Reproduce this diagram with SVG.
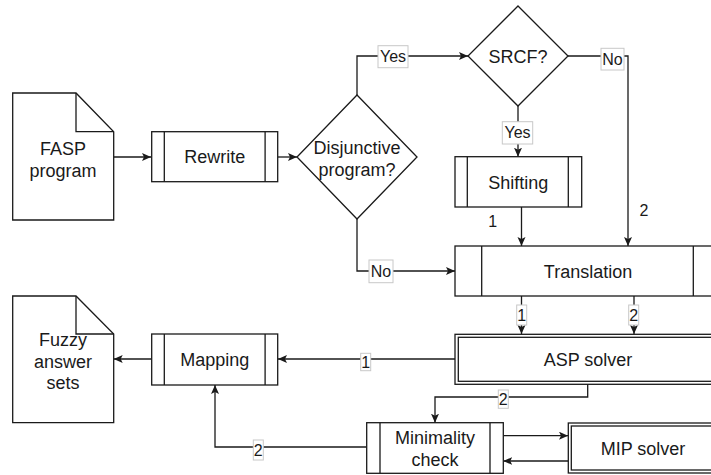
<svg xmlns="http://www.w3.org/2000/svg" width="711" height="475" viewBox="0 0 711 475">
<style>
.s{fill:#fff;stroke:#1a1a1a;stroke-width:1.3}
.l{fill:none;stroke:#1a1a1a;stroke-width:1.3}
.t{font-family:"Liberation Sans",Arial,sans-serif;font-size:18px;fill:#1a1a1a;text-anchor:middle}
.lt{font-family:"Liberation Sans",Arial,sans-serif;font-size:16px;fill:#1a1a1a;text-anchor:middle}
.lb{fill:#fff;stroke:#c8c8c8;stroke-width:1}
</style>
<defs>
<marker id="a" markerUnits="userSpaceOnUse" markerWidth="10" markerHeight="10" refX="9" refY="4" orient="auto">
<path d="M0,0 L9,4 L0,8 L2,4 Z" fill="#1a1a1a"/>
</marker>
</defs>
<rect width="711" height="475" fill="#fff"/>
<g id="connectors">
<path class="l" d="M113.7,157 H151" marker-end="url(#a)"/>
<path class="l" d="M277.7,157 H297" marker-end="url(#a)"/>
<path class="l" d="M357,95 V56 H468" marker-end="url(#a)"/>
<path class="l" d="M518,106 V156.7" marker-end="url(#a)"/>
<path class="l" d="M568,56 H628 V246" marker-end="url(#a)"/>
<path class="l" d="M521.5,207 V246" marker-end="url(#a)"/>
<path class="l" d="M357,219 V271 H455" marker-end="url(#a)"/>
<path class="l" d="M521.5,296 V334" marker-end="url(#a)"/>
<path class="l" d="M634,296 V334" marker-end="url(#a)"/>
<path class="l" d="M455,359 H278" marker-end="url(#a)"/>
<path class="l" d="M151.7,359 H113.7" marker-end="url(#a)"/>
<path class="l" d="M587.7,384 V397 H435 V422.7" marker-end="url(#a)"/>
<path class="l" d="M503.3,435.7 H568" marker-end="url(#a)"/>
<path class="l" d="M568,461 H503.3" marker-end="url(#a)"/>
<path class="l" d="M366.7,447 H215 V385" marker-end="url(#a)"/>
<rect class="lb" x="378" y="45.7" width="30" height="22"/>
<text class="lt" x="393" y="62">Yes</text>
<rect class="lb" x="502.3" y="121.7" width="30.4" height="22.3"/>
<text class="lt" x="517.5" y="138">Yes</text>
<rect class="lb" x="601" y="48.3" width="23" height="21.7"/>
<text class="lt" x="612.5" y="65">No</text>
<rect class="lb" x="369" y="260" width="24" height="22.7"/>
<text class="lt" x="381" y="277">No</text>
<text class="lt" x="492.7" y="227">1</text>
<text class="lt" x="644" y="215.5">2</text>
<rect class="lb" x="516.7" y="305" width="10" height="20"/>
<text class="lt" x="521.7" y="321">1</text>
<rect class="lb" x="628.7" y="305" width="10" height="20"/>
<text class="lt" x="633.7" y="321">2</text>
<rect class="lb" x="360.7" y="353.3" width="10" height="17.4"/>
<text class="lt" x="365.7" y="367.5">1</text>
<rect class="lb" x="498.3" y="390" width="10" height="18.3"/>
<text class="lt" x="503.3" y="404.5">2</text>
<rect class="lb" x="253.3" y="440" width="10" height="20"/>
<text class="lt" x="258.3" y="455.5">2</text>
</g>
<g id="fasp">
<path class="s" d="M12.7,93 H76 L113.7,131.7 V220 H12.7 Z"/>
<path class="l" d="M76,93 V131.7 H113.7"/>
<text class="t" x="63" y="154.5">FASP</text>
<text class="t" x="63" y="176.5">program</text>
</g>
<g id="rewrite">
<rect class="s" x="151.7" y="131.7" width="126" height="50"/>
<path class="l" d="M164.3,131.7 V181.7 M265.1,131.7 V181.7"/>
<text class="t" x="214.7" y="163">Rewrite</text>
</g>
<g id="disjunctive">
<path class="s" d="M357,95 L417,157 L357,219 L297,157 Z"/>
<text class="t" x="357" y="154">Disjunctive</text>
<text class="t" x="357" y="176">program?</text>
</g>
<g id="srcf">
<path class="s" d="M518,6 L568,56 L518,106 L468,56 Z"/>
<text class="t" x="518" y="63">SRCF?</text>
</g>
<g id="shifting">
<rect class="s" x="455" y="156.7" width="126.7" height="50.3"/>
<path class="l" d="M467.3,156.7 V207 M568.3,156.7 V207"/>
<text class="t" x="518.3" y="189">Shifting</text>
</g>
<g id="translation">
<rect class="s" x="455" y="246" width="265" height="50"/>
<path class="l" d="M481.7,246 V296 M693.3,246 V296"/>
<text class="t" x="588" y="278">Translation</text>
</g>
<g id="asp">
<rect class="s" x="455" y="334.3" width="265" height="50"/>
<rect class="l" x="458.3" y="337.3" width="258" height="44"/>
<text class="t" x="588" y="366">ASP solver</text>
</g>
<g id="mapping">
<rect class="s" x="151.7" y="334" width="126" height="51"/>
<path class="l" d="M164.3,334 V385 M265.1,334 V385"/>
<text class="t" x="214.7" y="366">Mapping</text>
</g>
<g id="fuzzy">
<path class="s" d="M12.7,296 H76 L113.7,334 V422.7 H12.7 Z"/>
<text class="t" x="63" y="346">Fuzzy</text>
<text class="t" x="63" y="367.5">answer</text>
<text class="t" x="63" y="389">sets</text>
<path class="l" d="M76,296 V334 H113.7"/>
</g>
<g id="minimality">
<rect class="s" x="366.7" y="422.7" width="136.6" height="50.6"/>
<path class="l" d="M380,422.7 V473.3 M490,422.7 V473.3"/>
<text class="t" x="435" y="443.5">Minimality</text>
<text class="t" x="435" y="465.5">check</text>
</g>
<g id="mip">
<rect class="s" x="568.3" y="423" width="150" height="50"/>
<rect class="l" x="571.3" y="426" width="144" height="44"/>
<text class="t" x="643" y="454.5">MIP solver</text>
</g>
</svg>
